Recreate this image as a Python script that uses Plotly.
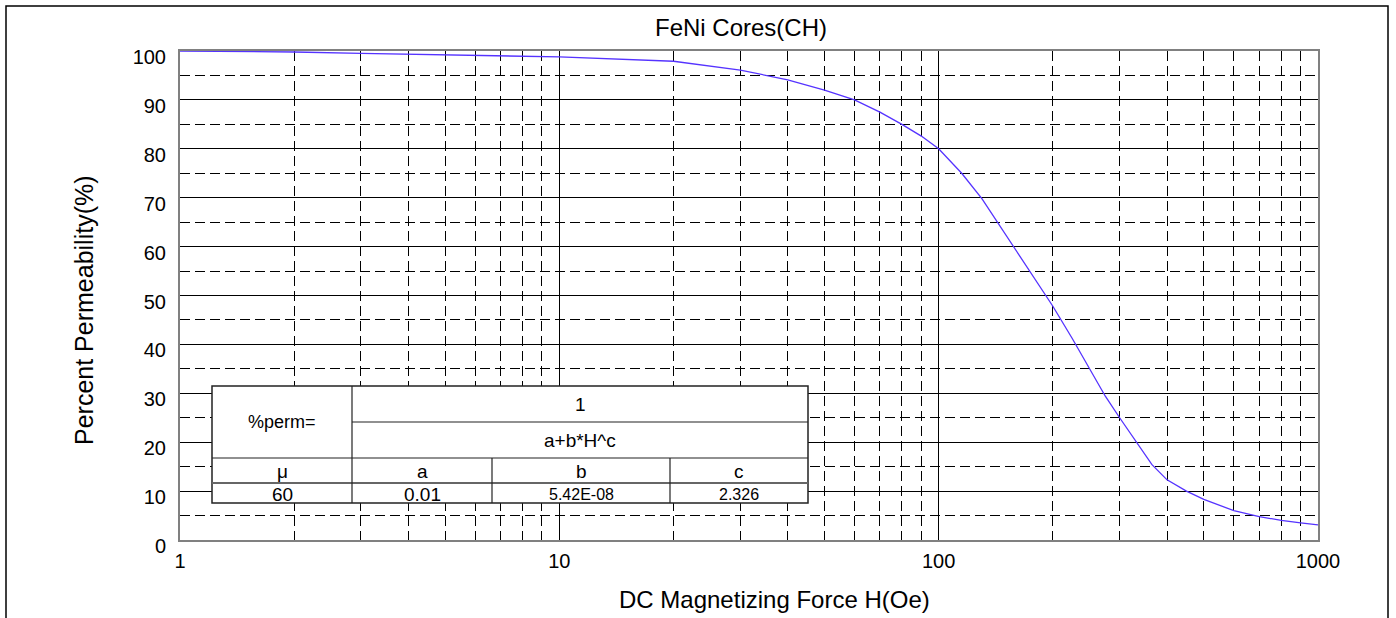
import plotly.graph_objects as go

# ---- data ----
H_OE = [1, 2, 3, 5, 10, 20, 30, 40, 50, 60, 70, 80, 90, 100, 115, 130, 145, 160,
        175, 190, 200, 225, 250, 275, 300, 335, 365, 400, 450, 500, 600, 700, 800,
        900, 1000]
PERM = [100, 99.8, 99.5, 99.2, 98.8, 97.9, 96.1, 94.1, 92.0, 90.0, 87.5, 85.0, 82.6,
        80.0, 75.0, 69.8, 64.2, 59.2, 54.5, 50.5, 47.8, 41.2, 35.0, 29.4, 25.0, 19.6,
        15.4, 12.3, 10.0, 8.3, 6.0, 4.8, 4.0, 3.5, 3.1]

X_TICKS = [1, 10, 100, 1000]
X_TICK_LABELS = ["1", "10", "100", "1000"]
Y_TICKS = [0, 10, 20, 30, 40, 50, 60, 70, 80, 90, 100]

TITLE = "FeNi Cores(CH)"
X_TITLE = "DC Magnetizing Force H(Oe)"
Y_TITLE = "Percent Permeability(%)"

TABLE_HEAD = ["μ", "a", "b", "c"]
TABLE_VALS = ["60", "0.01", "5.42E-08", "2.326"]
FORMULA_LEFT = "%perm="
FORMULA_NUM = "1"
FORMULA_DEN = "a+b*H^c"

# ---- layout geometry (pixels) ----
W, HGT = 1396, 618
L, R, T, B = 180, 1318, 51, 540
FONT = "Liberation Sans, Arial, sans-serif"


def px(xp):
    return (xp - L) / (R - L)


def py(yp):
    return (B - yp) / (B - T)


fig = go.Figure()
fig.add_trace(go.Scatter(x=H_OE, y=PERM, mode="lines",
                         line=dict(color="#5533ff", width=1.3),
                         showlegend=False, hoverinfo="x+y"))

dash = "10px,5px"
fig.update_xaxes(type="log", range=[0, 3], tickvals=X_TICKS, ticktext=X_TICK_LABELS,
                 showgrid=True, gridcolor="black", gridwidth=1,
                 minor=dict(dtick="D1", showgrid=True, gridcolor="black",
                            griddash=dash, gridwidth=1, ticks=""),
                 showline=True, linecolor="#808080", linewidth=2, mirror=True,
                 ticks="", ticklabelstandoff=2,
                 tickfont=dict(family=FONT, size=20, color="black"), zeroline=False)
fig.update_yaxes(range=[0, 100], tickvals=Y_TICKS,
                 showgrid=True, gridcolor="black", gridwidth=1,
                 minor=dict(dtick=5, tick0=0, showgrid=True, gridcolor="black",
                            griddash=dash, gridwidth=1, ticks=""),
                 showline=True, linecolor="#808080", linewidth=2, mirror=True,
                 ticks="", ticklabelstandoff=8, ticklabelshift=6,
                 tickfont=dict(family=FONT, size=20, color="black"), zeroline=False)

shapes = []
# outer frame
shapes.append(dict(type="rect", xref="paper", yref="paper",
                   x0=px(6), x1=px(1388), y0=py(640), y1=py(6),
                   line=dict(color="black", width=1.5), fillcolor="rgba(0,0,0,0)",
                   layer="above"))
# table
tl, tr, tt, tb = 212, 808, 386, 503
c1, c2, c3 = 352, 492, 670
r1, r2, r3 = 422, 458, 483
shapes.append(dict(type="rect", xref="paper", yref="paper",
                   x0=px(tl), x1=px(tr), y0=py(tb), y1=py(tt),
                   line=dict(color="#222", width=1.5), fillcolor="white", layer="above"))


def hline(x0, x1, y, color="#222", w=1.2):
    shapes.append(dict(type="line", xref="paper", yref="paper",
                       x0=px(x0), x1=px(x1), y0=py(y), y1=py(y),
                       line=dict(color=color, width=w), layer="above"))


def vline(x, y0, y1, color="#222", w=1.2):
    shapes.append(dict(type="line", xref="paper", yref="paper",
                       x0=px(x), x1=px(x), y0=py(y0), y1=py(y1),
                       line=dict(color=color, width=w), layer="above"))


hline(c1, tr, r1)
hline(tl, tr, r2)
hline(tl, tr, r3, color="#666", w=2)
vline(c1, tt, tb)
vline(c2, r2, tb)
vline(c3, r2, tb)
fig.update_layout(shapes=shapes)

ann = []


def text(x, y, s, size, angle=0):
    ann.append(dict(xref="paper", yref="paper", x=px(x), y=py(y), text=s,
                    showarrow=False, xanchor="center", yanchor="middle",
                    textangle=angle, font=dict(family=FONT, size=size, color="black")))


text(741, 28, TITLE, 24)
text(775, 599, X_TITLE, 24)
text(84, 310, Y_TITLE, 25, angle=-90)
text((tl + c1) / 2, (tt + r2) / 2, FORMULA_LEFT, 18)
text((c1 + tr) / 2, (tt + r1) / 2, FORMULA_NUM, 19)
text((c1 + tr) / 2, (r1 + r2) / 2, FORMULA_DEN, 19)
cols = [tl, c1, c2, c3, tr]
sizes = [19, 19, 16, 16]
for i in range(4):
    cx = (cols[i] + cols[i + 1]) / 2
    text(cx, (r2 + r3) / 2 + 1, TABLE_HEAD[i], 19)
    text(cx, (r3 + tb) / 2 + 1, TABLE_VALS[i], sizes[i])
fig.update_layout(annotations=ann)

fig.update_layout(width=W, height=HGT, margin=dict(l=L, r=W - R, t=T, b=HGT - B),
                  paper_bgcolor="white", plot_bgcolor="white",
                  font=dict(family=FONT, color="black"))
fig.write_html("out.html")
